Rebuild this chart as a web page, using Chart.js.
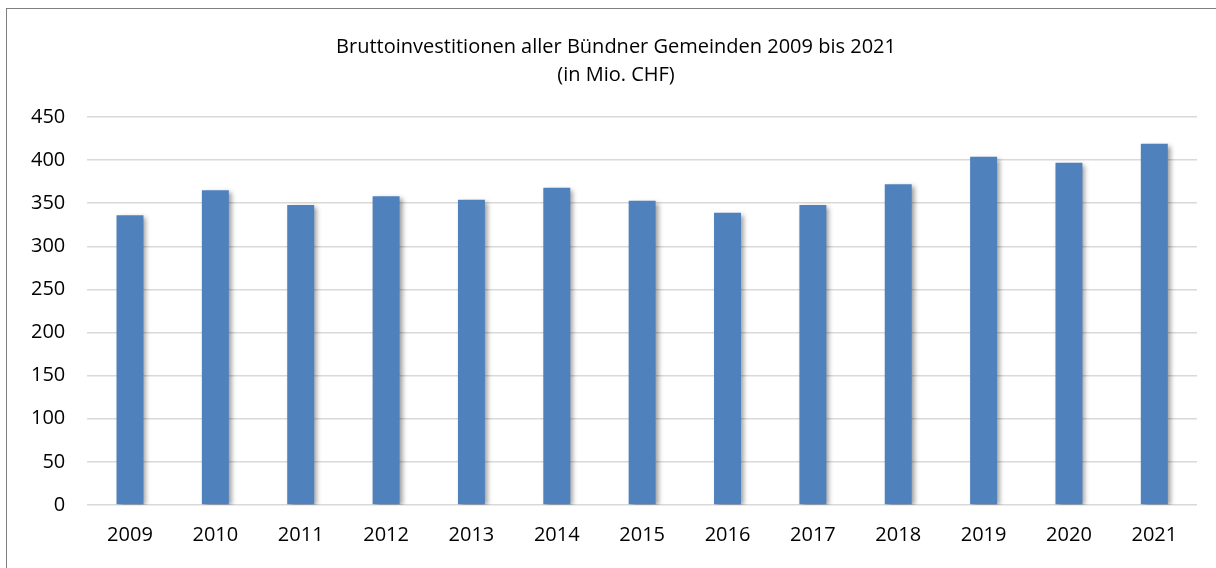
<!DOCTYPE html>
<html><head><meta charset="utf-8">
<script src="https://cdn.jsdelivr.net/npm/chart.js@4/dist/chart.umd.min.js"></script>
<style>
html,body{margin:0;padding:0;background:#fff;width:1216px;height:568px;overflow:hidden;}
#box{position:absolute;left:6px;top:8px;width:1242px;height:580px;border:1px solid #7f7f7f;box-sizing:border-box;}
#c{position:absolute;left:0;top:0;}
</style></head>
<body>
<div id="box"><canvas id="c" width="1240" height="578"></canvas></div>
<script>
const categories = ["2009","2010","2011","2012","2013","2014","2015","2016","2017","2018","2019","2020","2021"];
const investitionen = [336, 365, 348, 358, 354, 368, 353, 339, 348, 372, 404, 397, 419];
const titleLines = ["Bruttoinvestitionen aller Bündner Gemeinden 2009 bis 2021", "(in Mio. CHF)"];

const shadowPlugin = {
  id: 'barShadow',
  beforeDatasetsDraw(chart){
    const ctx = chart.ctx;
    ctx.save();
    ctx.shadowColor = 'rgba(0,0,0,0.4)';
    ctx.shadowBlur = 5;
    ctx.shadowOffsetX = 3;
    ctx.shadowOffsetY = 2;
  },
  afterDatasetsDraw(chart){
    chart.ctx.restore();
  }
};

new Chart(document.getElementById('c'), {
  type: 'bar',
  data: {
    labels: categories,
    datasets: [{
      data: investitionen,
      backgroundColor: '#4f81bd',
      barPercentage: 0.316,
      categoryPercentage: 1.0,
      yAxisID: 'y'
    }]
  },
  options: {
    responsive: false,
    animation: false,
    devicePixelRatio: 1,
    layout: { padding: { left: 2, right: 24, top: 4, bottom: 22 } },
    plugins: {
      legend: { display: false },
      tooltip: { enabled: false },
      title: {
        display: true,
        text: titleLines,
        color: '#000',
        font: { family: 'Open Sans', size: 20, weight: 'normal', lineHeight: 1.4 },
        padding: { top: 20, bottom: 28 }
      }
    },
    scales: {
      x: {
        grid: { display: false, drawTicks: false },
        border: { display: false },
        ticks: { color: '#000', font: { family: 'Open Sans', size: 20 }, padding: 18 }
      },
      y: {
        min: 0, max: 450,
        ticks: { stepSize: 50, color: '#000', font: { family: 'Open Sans', size: 20 }, padding: 22 },
        grid: { color: '#d9d9d9', lineWidth: 1.5, drawTicks: false },
        border: { display: false }
      },
      yRight: {
        position: 'right',
        min: 0, max: 450,
        grid: { display: false, drawTicks: false },
        border: { display: false },
        ticks: { display: false },
        afterFit(scale){ scale.width = 26; }
      }
    }
  },
  plugins: [shadowPlugin]
});
</script>
</body></html>
